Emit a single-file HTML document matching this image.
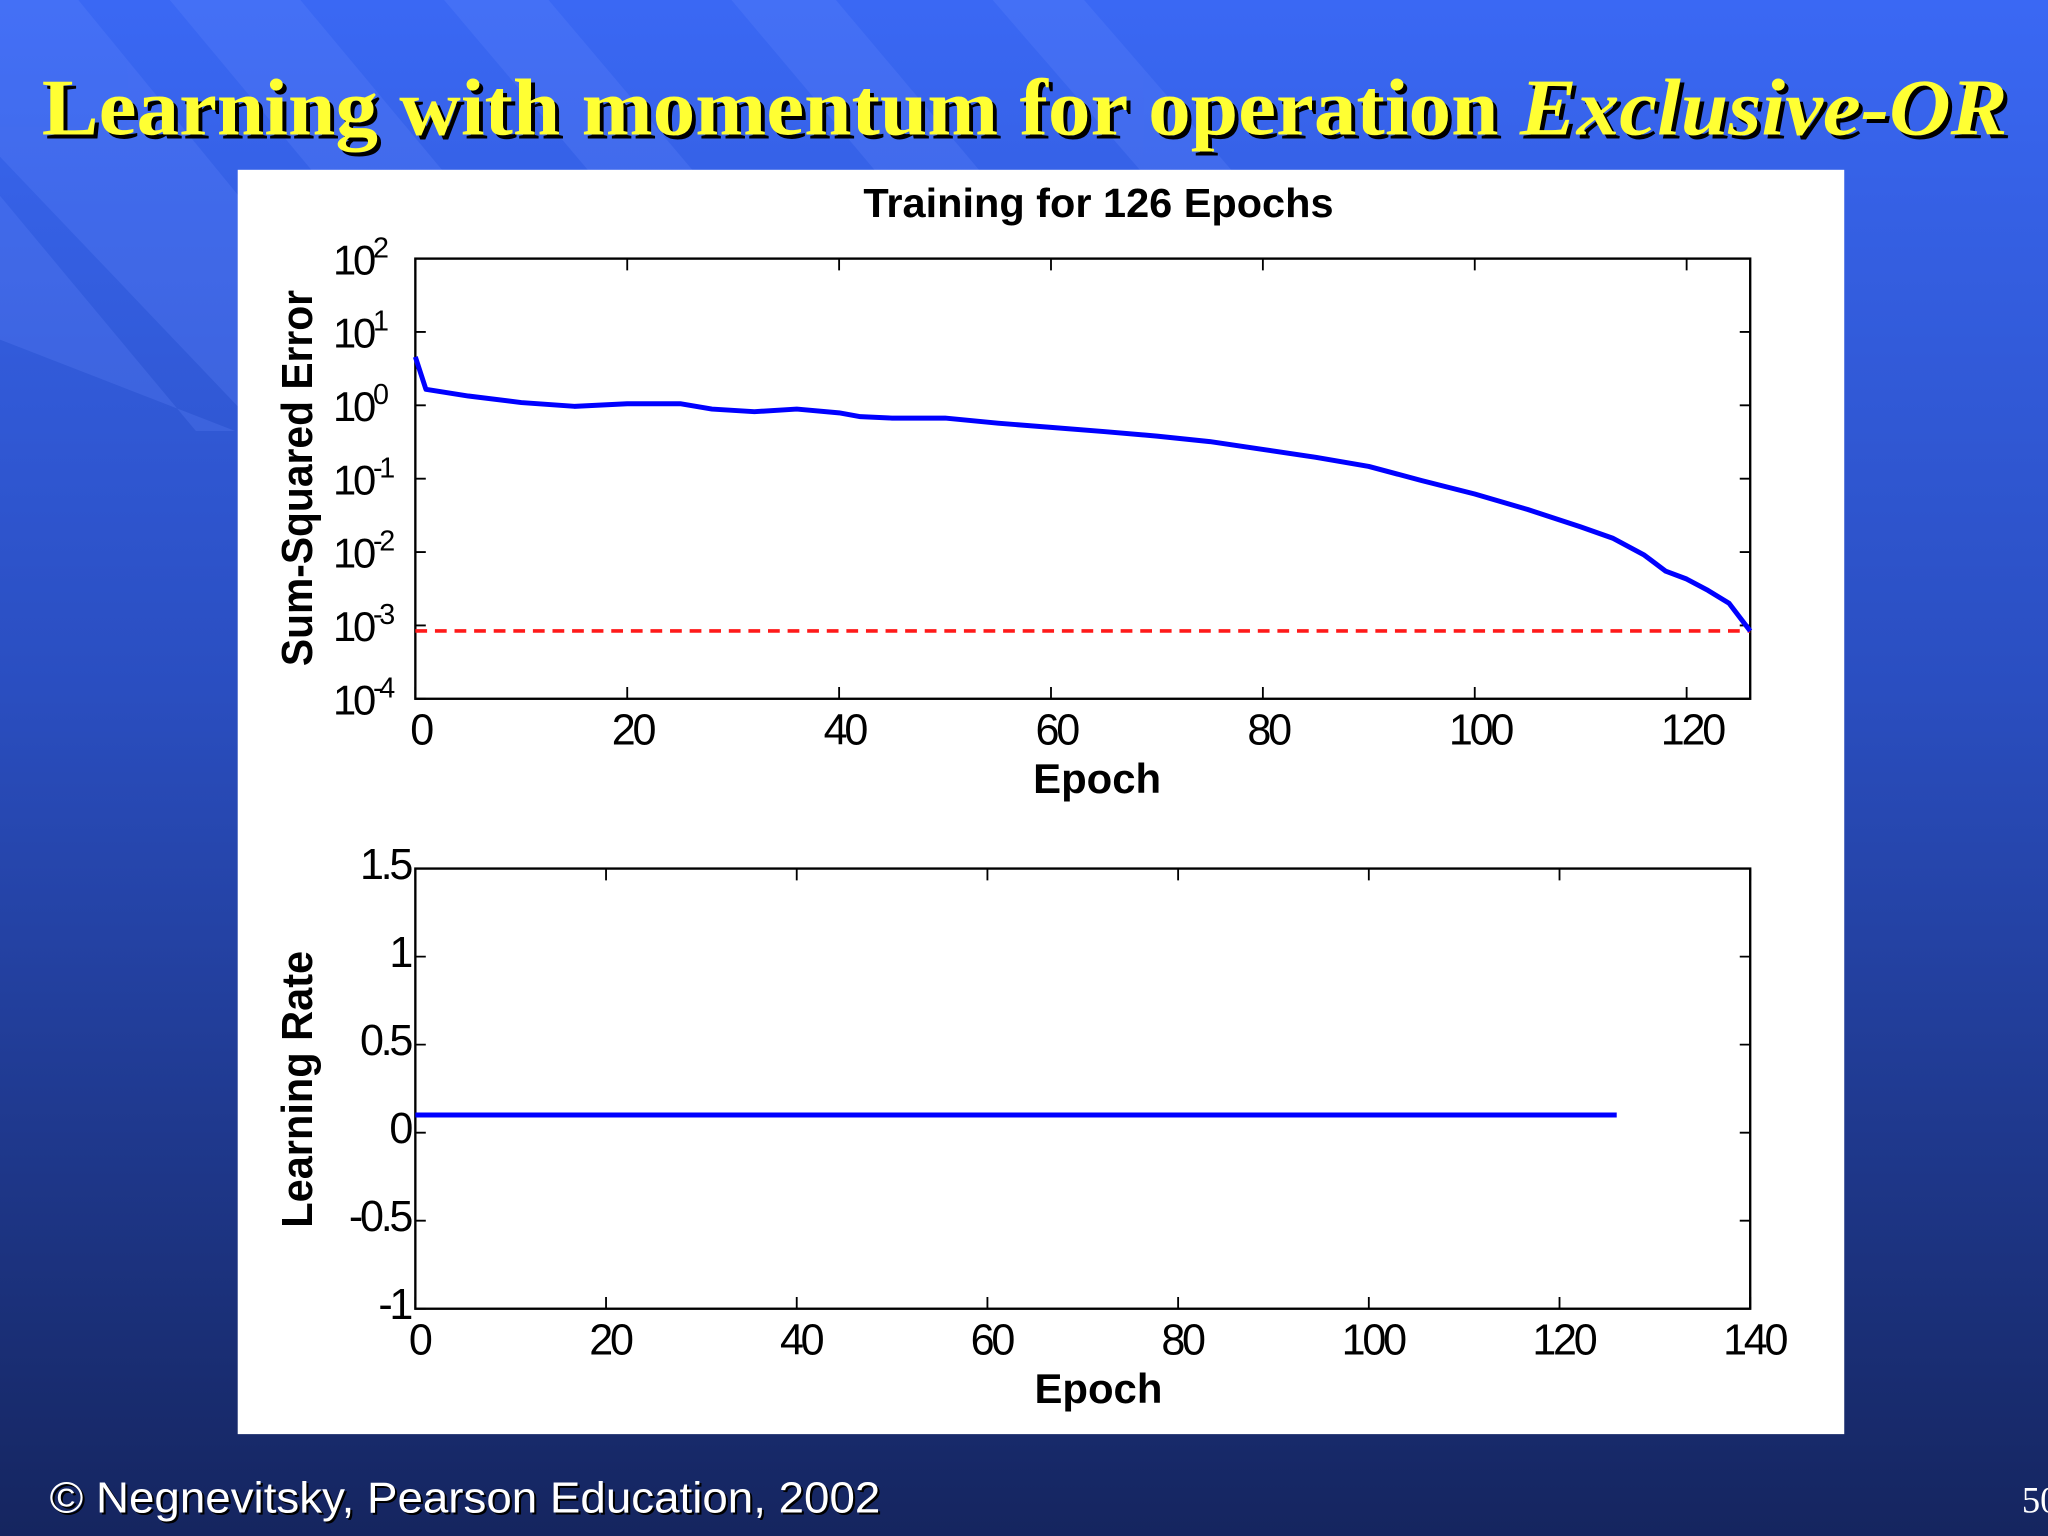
<!DOCTYPE html>
<html><head><meta charset="utf-8"><style>
html,body{margin:0;padding:0;width:2048px;height:1536px;overflow:hidden;background:#1a2c78}
svg{display:block}
text{font-family:"Liberation Sans",Arial,sans-serif}
text.serif{font-family:"Liberation Serif","Times New Roman",serif}
</style></head><body>
<svg id="slide" width="2048" height="1536" viewBox="0 0 1568 1176" xmlns="http://www.w3.org/2000/svg">
<defs>
<linearGradient id="bg" x1="0" y1="0" x2="0" y2="1">
<stop offset="0" stop-color="#3a68f4"/><stop offset="0.45" stop-color="#2a4ec0"/><stop offset="1" stop-color="#15255f"/>
</linearGradient>
</defs>
<rect x="0" y="0" width="1568" height="1176" fill="url(#bg)"/>
<g fill="#6a8cff" opacity="0.22">
<polygon points="0,0 60,0 330,330 200,330 0,120"/>
<polygon points="130,0 230,0 480,300 380,300"/>
<polygon points="340,0 420,0 640,260 560,260"/>
<polygon points="560,0 640,0 800,190 720,190"/>
<polygon points="760,0 830,0 960,150 890,150"/>
<polygon points="0,150 0,260 180,330 150,330"/>
</g>
<g font-weight="bold" font-size="62">
<text class="serif" x="35" y="106" fill="#000" textLength="1505" lengthAdjust="spacingAndGlyphs">Learning with momentum for operation <tspan font-style="italic">Exclusive-OR</tspan></text>
<text class="serif" x="32" y="103" fill="#ffff33" textLength="1505" lengthAdjust="spacingAndGlyphs">Learning with momentum for operation <tspan font-style="italic">Exclusive-OR</tspan></text>
</g>
<rect x="182" y="130" width="1230" height="968" fill="#fff"/>
<text x="841" y="166" text-anchor="middle" font-weight="bold" font-size="31" textLength="360" lengthAdjust="spacingAndGlyphs">Training for 126 Epochs</text>
<g id="p1"></g>
<g id="p2"></g>
<text x="38" y="1158" fill="#fff" font-size="33" textLength="636" lengthAdjust="spacingAndGlyphs" style="text-shadow:2px 2px 0 #000">© Negnevitsky, Pearson Education, 2002</text>
<text class="serif" x="1548" y="1158" fill="#fff" font-size="28">50</text>
</svg>
<script>
// Top chart data
const errEpochs = [0,1,5,10,15,20,25,28,32,36,40,42,45,50,55,60,65,70,75,80,85,90,95,100,105,110,113,116,118,120,122,124,126];
const errValues = [4.59,1.65,1.34,1.09,0.97,1.05,1.05,0.89,0.82,0.89,0.79,0.70,0.67,0.67,0.57,0.50,0.44,0.38,0.32,0.25,0.196,0.147,0.094,0.062,0.038,0.022,0.0155,0.0091,0.0055,0.0043,0.0030,0.0020,0.00084];
const errGoal = [0.00084];
const errXTicks = [0,20,40,60,80,100,120];
const errYExp = [-4,-3,-2,-1,0,1,2];
// Bottom chart data
const lrEpochs = [0,126];
const lrValues = [0.1,0.1];
const lrXTicks = [0,20,40,60,80,100,120,140];
const lrYTicks = [-1,-0.5,0,0.5,1,1.5];
const lrYLabels = ['-1','-0.5','0','0.5','1','1.5'];

const NS='http://www.w3.org/2000/svg';
function mk(tag,attrs,parent,txt){const e=document.createElementNS(NS,tag);for(const k in attrs)e.setAttribute(k,attrs[k]);if(txt!==undefined)e.textContent=txt;parent.appendChild(e);return e;}

function frame(g,L,T,R,B,xs,xT,ys,yT,nameP){
  const box=mk('rect',{x:L,y:T,width:R-L,height:B-T,fill:'none',stroke:'#000','stroke-width':1.8},g);
  
  
  xT.forEach(v=>{const x=xs(v);
    const t=mk('path',{d:`M${x},${B}v-9M${x},${T}v9`,stroke:'#000','stroke-width':1.4},g);
    
    
  });
  yT.forEach(v=>{const y=ys(v);
    const t=mk('path',{d:`M${L},${y}h8M${R},${y}h-8`,stroke:'#000','stroke-width':1.4},g);
    
    
  });
}

// Plot 1
(function(){
  const g=document.getElementById('p1');
  const L=318,R=1340,T=198,B=535;
  const xs=v=>L+(v-0)/(126-0)*(R-L);
  const ys=v=>B-(Math.log10(v)-(-4))/6*(B-T);
  const yse=e=>B-(e+4)/6*(B-T);
  frame(g,L,T,R,B,xs,errXTicks,v=>ys(v),errYExp.map(e=>Math.pow(10,e)),'error');
  errXTicks.forEach(v=>{
    const t=mk('text',{x:xs(v)+4,y:570,'text-anchor':'middle','font-size':33,'letter-spacing':-2.5},g,String(v));
    
    
  });
  errYExp.forEach(e=>{
    const t=mk('text',{x:255,y:yse(e)+12,'font-size':32,'letter-spacing':-2.5},g);
    
    
    t.appendChild(document.createTextNode('10'));
    mk('tspan',{dy:-13,'font-size':22},t,String(e));
  });
  const gl=mk('line',{x1:L,x2:R,y1:ys(errGoal[0]),y2:ys(errGoal[0]),stroke:'#ff1a1a','stroke-width':2.8,'stroke-dasharray':'9,6'},g);
  
  
  const d=errEpochs.map((e,i)=>(i?'L':'M')+xs(e).toFixed(1)+','+ys(errValues[i]).toFixed(1)).join('');
  const p=mk('path',{d:d,fill:'none',stroke:'#0000ff','stroke-width':3.8,'stroke-linejoin':'round'},g);
  
  
  const xl=mk('text',{x:840,y:607,'text-anchor':'middle','font-weight':'bold','font-size':32,textLength:98,lengthAdjust:'spacingAndGlyphs'},g,'Epoch');
  
  
  const yl=mk('text',{x:0,y:0,'text-anchor':'middle','font-weight':'bold','font-size':33,textLength:288,lengthAdjust:'spacingAndGlyphs',transform:'translate(239,366) rotate(-90)'},g,'Sum-Squared Error');
  
  
})();

// Plot 2
(function(){
  const g=document.getElementById('p2');
  const L=318,R=1340,T=665,B=1002;
  const xs=v=>L+(v-0)/140*(R-L);
  const ys=v=>B-(v-(-1))/2.5*(B-T);
  frame(g,L,T,R,B,xs,lrXTicks,ys,lrYTicks,'lr');
  lrXTicks.forEach(v=>{
    const t=mk('text',{x:xs(v)+3,y:1037,'text-anchor':'middle','font-size':33,'letter-spacing':-2.5},g,String(v));
    
    
  });
  lrYTicks.forEach((v,i)=>{
    const t=mk('text',{x:314,y:ys(v)+8,'text-anchor':'end','font-size':33,'letter-spacing':-2.5},g,lrYLabels[i]);
    
    
  });
  const d=lrEpochs.map((e,i)=>(i?'L':'M')+xs(e).toFixed(1)+','+ys(lrValues[i]).toFixed(1)).join('');
  const p=mk('path',{d:d,fill:'none',stroke:'#0000ff','stroke-width':3.8},g);
  
  
  const xl=mk('text',{x:841,y:1074,'text-anchor':'middle','font-weight':'bold','font-size':32,textLength:98,lengthAdjust:'spacingAndGlyphs'},g,'Epoch');
  
  
  const yl=mk('text',{x:0,y:0,'text-anchor':'middle','font-weight':'bold','font-size':33,textLength:212,lengthAdjust:'spacingAndGlyphs',transform:'translate(239,834) rotate(-90)'},g,'Learning Rate');
  
  
})();
</script>
</body></html>
